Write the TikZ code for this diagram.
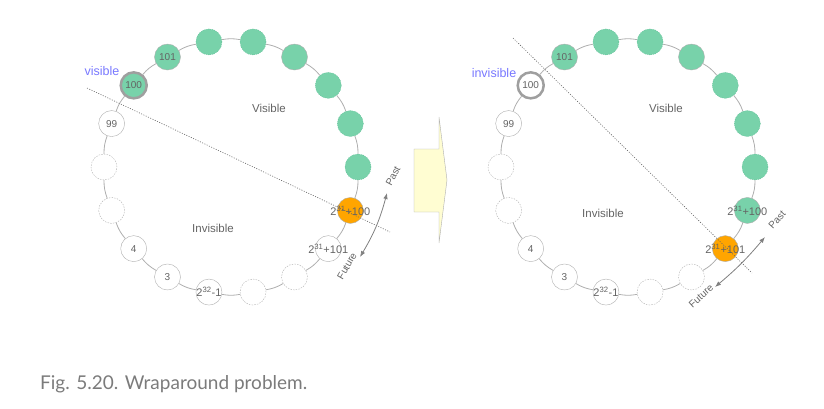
\documentclass[tikz,border=0pt]{standalone}
\usepackage{fontspec}
\setmainfont{Liberation Sans}
\newfontfamily\capfont{Lato}
\usetikzlibrary{positioning,arrows.meta}
\definecolor{mint}{RGB}{120,210,170}
\definecolor{mintdark}{RGB}{95,190,150}
\definecolor{amber}{RGB}{255,165,0}
\definecolor{linegray}{RGB}{175,175,175}
\definecolor{textgray}{RGB}{100,100,100}
\definecolor{seqblue}{RGB}{120,120,255}
\definecolor{cream}{RGB}{255,253,210}

\begin{document}
\begin{tikzpicture}[x=1pt,y=1pt,>={Latex[length=6pt,width=4.5pt]},
dot/.style={circle,minimum size=26pt,inner sep=0pt,draw=linegray,fill=white,
  text=textgray,font=\fontsize{10}{10}\selectfont},
ghost/.style={dot,dash pattern=on 1.5pt off 1.2pt},
vis/.style={dot,fill=mint,draw=mintdark,dash pattern=on 1pt off 1pt},
seen/.style={dot,fill=mint},
last/.style={dot,line width=2.5pt,draw=gray!75},
now/.style={dot,fill=amber},
big/.style={text=textgray,font=\fontsize{11}{11}\selectfont,inner sep=0pt},
ring/.style={draw=linegray,line width=0.8pt,bend right=10},
cut/.style={draw=textgray,line width=0.6pt,dash pattern=on 1pt off 1.5pt},
time/.style={<->,draw=gray,line width=0.8pt},
tag/.style={text=textgray,font=\fontsize{11.5}{11.5}\selectfont},
hint/.style={text=seqblue,font=\fontsize{12.5}{12.5}\selectfont},
tick/.style={text=textgray,font=\fontsize{10}{10}\selectfont,inner sep=0pt}]
\useasboundingbox (0,0) rectangle (824,408);

% left ring
\begin{scope}[shift={(231,241)}]
\node[vis] (L0) at (0:127) {};
\node[vis] (L1) at (20:127) {};
\node[vis] (L2) at (40:127) {};
\node[seen] (L3) at (60:127) {};
\node[vis] (L4) at (80:127) {};
\node[vis] (L5) at (100:127) {};
\node[seen] (L6) at (120:127) {101};
\node[last,fill=mint] (L7) at (140:127) {100};
\node[dot] (L8) at (160:127) {99};
\node[ghost] (L9) at (180:127) {};
\node[ghost] (L10) at (200:127) {};
\node[dot] (L11) at (220:127) {4};
\node[dot] (L12) at (240:127) {3};
\node[dot,label={[big]center:2\textsuperscript{32}-1}] (L13) at (260:127) {};
\node[ghost] (L14) at (280:127) {};
\node[ghost] (L15) at (300:127) {};
\node[dot,label={[big]center:2\textsuperscript{31}+101}] (L16) at (320:127) {};
\node[now,label={[big]center:2\textsuperscript{31}+100}] (L17) at (340:127) {};
\end{scope}
\path[ring] (L0) edge (L1) (L1) edge (L2) (L2) edge (L3) (L3) edge (L4)
  (L4) edge (L5) (L5) edge (L6) (L6) edge (L7) (L7) edge (L8) (L8) edge (L9)
  (L9) edge (L10) (L10) edge (L11) (L11) edge (L12) (L12) edge (L13)
  (L13) edge (L14) (L14) edge (L15) (L15) edge (L16) (L16) edge (L17) (L17) edge (L0);

% right ring
\begin{scope}[shift={(628,241)}]
\node[vis] (R0) at (0:127) {};
\node[vis] (R1) at (20:127) {};
\node[vis] (R2) at (40:127) {};
\node[seen] (R3) at (60:127) {};
\node[vis] (R4) at (80:127) {};
\node[vis] (R5) at (100:127) {};
\node[seen] (R6) at (120:127) {101};
\node[last] (R7) at (140:127) {100};
\node[dot] (R8) at (160:127) {99};
\node[ghost] (R9) at (180:127) {};
\node[ghost] (R10) at (200:127) {};
\node[dot] (R11) at (220:127) {4};
\node[dot] (R12) at (240:127) {3};
\node[dot,label={[big]center:2\textsuperscript{32}-1}] (R13) at (260:127) {};
\node[ghost] (R14) at (280:127) {};
\node[ghost] (R15) at (300:127) {};
\node[now,label={[big]center:2\textsuperscript{31}+101}] (R16) at (320:127) {};
\node[seen,label={[big]center:2\textsuperscript{31}+100}] (R17) at (340:127) {};
\end{scope}
\path[ring] (R0) edge (R1) (R1) edge (R2) (R2) edge (R3) (R3) edge (R4)
  (R4) edge (R5) (R5) edge (R6) (R6) edge (R7) (R7) edge (R8) (R8) edge (R9)
  (R9) edge (R10) (R10) edge (R11) (R11) edge (R12) (R12) edge (R13)
  (R13) edge (R14) (R14) edge (R15) (R15) edge (R16) (R16) edge (R17) (R17) edge (R0);

% border of the window
\coordinate (cutL1) at (87,320);
\coordinate (cutL2) at (390,176);
\coordinate (cutR1) at (513,370);
\coordinate (cutR2) at (752,135);
\draw[cut] (cutL1) -- (cutL2);
\draw[cut] (cutR1) -- (cutR2);

\node[hint] (visL) at (102,337) {visible};
\node[hint] (visR) at (494,335) {invisible};
\node[tag] (inL) at (269,300) {Visible};
\node[tag] (outL) at (213,180) {Invisible};
\node[tag] (inR) at (666,300) {Visible};
\node[tag] (outR) at (603,195) {Invisible};

% time direction
\coordinate (futL) at (360,151);
\coordinate (pastL) at (387,215);
\draw[time] (futL) to[bend right=8] (pastL);
\node[tick,rotate=62] (pastLtxt) at (393,232) {Past};
\node[tick,rotate=60] (futLtxt) at (347,142) {Future};
\coordinate (futR) at (715,121);
\coordinate (pastR) at (765,171);
\draw[time] (futR) to[bend right=5] (pastR);
\node[tick,rotate=48] (pastRtxt) at (777,188) {Past};
\node[tick,rotate=42] (futRtxt) at (701,112) {Future};

% then
\draw[fill=cream,draw=linegray] (414,196) -- (414,259) -- (439,259) -- (439,291)
  -- (447,228) -- (439,165) -- (439,196) -- cycle;

\node[anchor=base west,inner sep=0pt,text=textgray!85,font=\capfont\fontsize{19}{19}\selectfont]
  (cap) at (40,19) {Fig. 5.20. Wraparound problem.};
\end{tikzpicture}
\end{document}
